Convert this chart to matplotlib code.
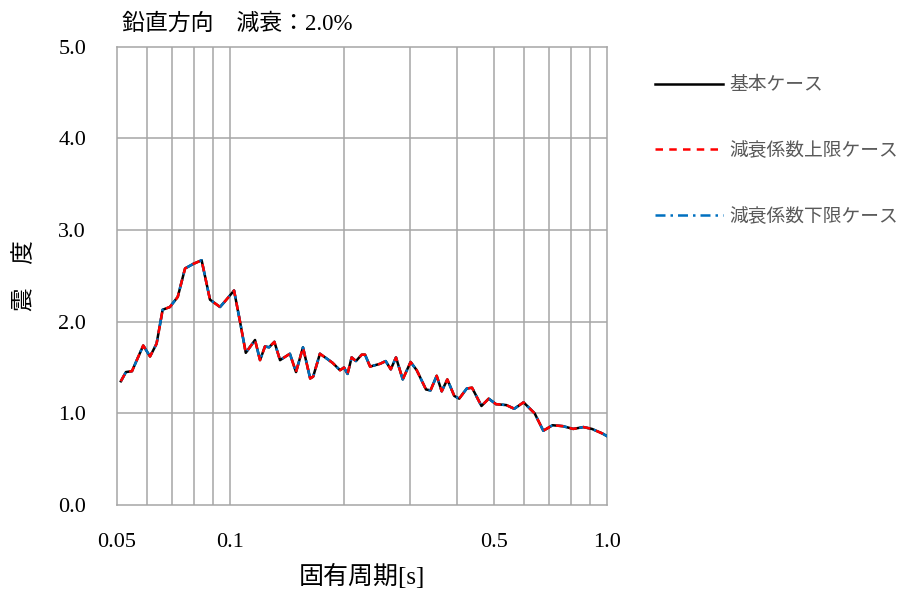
import matplotlib
matplotlib.use("Agg")
import matplotlib.pyplot as plt

plt.rcParams['font.family'] = ['Liberation Serif', 'Noto Sans CJK JP']

# periods [s] and response values
period = [0.0513, 0.0529, 0.0549, 0.0588, 0.0613, 0.0638, 0.0662, 0.0692, 0.0726, 0.0759,
          0.0798, 0.0840, 0.0884, 0.0940, 0.0968, 0.1024, 0.1062, 0.1100, 0.1164, 0.1200,
          0.1237, 0.1268, 0.1310, 0.1356, 0.1440, 0.1495, 0.1560, 0.1630, 0.1660, 0.1730,
          0.1800, 0.1870, 0.1956, 0.2004, 0.2048, 0.2100, 0.2156, 0.2233, 0.2279, 0.2350,
          0.2497, 0.2585, 0.2667, 0.2753, 0.2869, 0.3010, 0.3125, 0.3307, 0.3400, 0.3530,
          0.3640, 0.3767, 0.3930, 0.4050, 0.4240, 0.4380, 0.4640, 0.4850, 0.5070, 0.5400,
          0.5670, 0.6000, 0.6420, 0.6770, 0.7160, 0.7630, 0.8125, 0.8650, 0.9110, 0.9710,
          1.0000]

base_case = [1.35, 1.45, 1.46, 1.74, 1.62, 1.76, 2.13, 2.16, 2.27, 2.58,
             2.63, 2.67, 2.24, 2.16, 2.22, 2.34, 2.00, 1.66, 1.80, 1.58,
             1.73, 1.72, 1.78, 1.58, 1.65, 1.45, 1.72, 1.38, 1.40, 1.65,
             1.60, 1.55, 1.47, 1.50, 1.43, 1.61, 1.57, 1.64, 1.64, 1.51,
             1.54, 1.57, 1.48, 1.61, 1.37, 1.56, 1.47, 1.26, 1.25, 1.41,
             1.24, 1.37, 1.19, 1.16, 1.27, 1.28, 1.08, 1.16, 1.10, 1.09,
             1.05, 1.12, 1.00, 0.81, 0.87, 0.86, 0.83, 0.85, 0.83, 0.78,
             0.75]
# the two damping variants overlap the base case in the picture
upper_case = list(base_case)
lower_case = list(base_case)

labels = ['基本ケース', '減衰係数上限ケース', '減衰係数下限ケース']
xtick_vals = [0.05, 0.1, 0.5, 1.0]
xtick_labels = ['0.05', '0.1', '0.5', '1.0']
ytick_vals = [0, 1, 2, 3, 4, 5]
ytick_labels = ['0.0', '1.0', '2.0', '3.0', '4.0', '5.0']

grid_c = '#a6a6a6'

fig = plt.figure(figsize=(9.01, 5.96), dpi=100)
ax = fig.add_axes([0.1295, 0.1527, 0.5444, 0.769])

l1, = ax.plot(period, base_case, color='black', lw=1.8, label=labels[0], zorder=3)
l3, = ax.plot(period, lower_case, color='#0070c0', lw=1.8, ls=(0, (4, 2, 1, 2)), label=labels[2], zorder=4)
l2, = ax.plot(period, upper_case, color='#ff0000', lw=1.8, ls=(0, (3, 2.5)), label=labels[1], zorder=5)

ax.set_xscale('log')
ax.set_xlim(0.05, 1.0)
ax.set_ylim(0, 5)

# grid lines
for v in [0.06, 0.07, 0.08, 0.09, 0.1, 0.2, 0.3, 0.4, 0.5, 0.6, 0.7, 0.8, 0.9]:
    ax.axvline(v, color=grid_c, lw=1.1, zorder=1)
for v in [1, 2, 3, 4]:
    ax.axhline(v, color=grid_c, lw=1.1, zorder=1)
for s in ax.spines.values():
    s.set_color(grid_c)
    s.set_linewidth(1.1)

ax.set_xticks(xtick_vals)
ax.set_xticklabels(xtick_labels)
ax.xaxis.set_minor_locator(matplotlib.ticker.NullLocator())
ax.set_yticks(ytick_vals)
ax.set_yticklabels(ytick_labels)
ax.tick_params(axis='x', length=0, pad=20, labelsize=16)
ax.tick_params(axis='y', length=0, pad=22, labelsize=16)

ax.set_xlabel('固有周期[s]', fontsize=18, labelpad=9)
fig.text(25 / 901, 1 - 276 / 596, '震　度', rotation=90, fontsize=17,
         ha='center', va='center')
fig.text(122 / 901, 1 - 24 / 596, '鉛直方向　減衰：2.0%', fontsize=16.5,
         ha='left', va='center')

leg = ax.legend(handles=[l1, l2, l3], loc='upper left',
                bbox_to_anchor=(655 / 901, 1 - 77 / 596), bbox_transform=fig.transFigure,
                frameon=False, fontsize=13.5, handlelength=3.6, handletextpad=0.35,
                labelspacing=2.55, borderpad=0, borderaxespad=0)
for t in leg.get_texts():
    t.set_color('#595959')

fig.savefig('out.png', dpi=100)
